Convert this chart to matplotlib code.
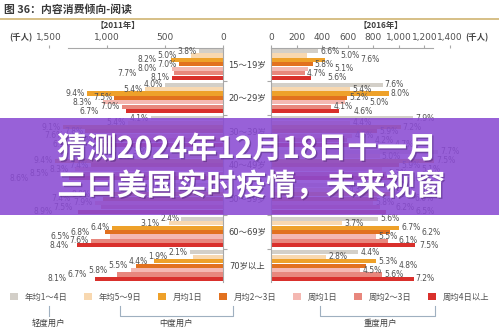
import matplotlib
matplotlib.use("Agg")
import matplotlib.pyplot as plt
from matplotlib.patches import Patch, Rectangle
from matplotlib.lines import Line2D
import matplotlib.transforms as mtransforms
import matplotlib.patheffects as pe

plt.rcParams['font.family'] = ['DejaVu Sans', 'Noto Sans CJK SC']

# ---- data (thousand people, label = share of the age group) ----
ages = ["15～19岁", "20～29岁", "30～39岁", "40～49岁", "50～59岁", "60～69岁", "70岁以上"]
freq_names = ["年均1～4日", "年均5～9日", "月均1日", "月均2～3日",
              "周均1日", "周均2～3日", "周均4日以上"]
colors = ["#d3cfc8", "#f8d8b0", "#eea12a", "#e2711f",
          "#f4b8b2", "#e8877d", "#d9302c"]

vals_2011 = [
    [207, 273, 447, 382, 436, 420, 441],
    [500, 675, 1175, 938, 1038, 875, 838],
    [623, 821, 1383, 1186, 1155, 1110, 1049],
    [601, 739, 1448, 1140, 1278, 1309, 1324],
    [420, 560, 1120, 1036, 1106, 1050, 1246],
    [360, 465, 960, 1020, 975, 1140, 1260],
    [286, 258, 598, 748, 789, 911, 1102],
]
pct_2011 = [
    ["3.8%", "5.0%", "8.2%", "7.0%", "8.0%", "7.7%", "8.1%"],
    ["4.0%", "5.4%", "9.4%", "7.5%", "8.3%", "7.0%", "6.7%"],
    ["4.1%", "5.4%", "9.1%", "7.8%", "7.6%", "7.3%", "6.9%"],
    ["3.9%", "4.8%", "9.4%", "7.4%", "8.3%", "8.5%", "8.6%"],
    ["3.0%", "4.0%", "8.0%", "7.4%", "7.9%", "7.5%", "8.9%"],
    ["2.4%", "3.1%", "6.4%", "6.8%", "6.5%", "7.6%", "8.4%"],
    ["2.1%", "1.9%", "4.4%", "5.5%", "5.8%", "6.7%", "8.1%"],
]
vals_2016 = [
    [370, 280, 426, 325, 286, 263, 314],
    [874, 621, 920, 598, 575, 472, 529],
    [1114, 620, 1015, 832, 635, 592, 663],
    [1309, 850, 1275, 1003, 867, 901, 952],
    [938, 593, 952, 828, 800, 856, 897],
    [840, 555, 1005, 930, 825, 915, 1125],
    [682, 434, 822, 744, 698, 868, 1116],
]
pct_2016 = [
    ["6.6%", "5.0%", "7.6%", "5.8%", "5.1%", "4.7%", "5.6%"],
    ["7.6%", "5.4%", "8.0%", "5.2%", "5.0%", "4.1%", "4.6%"],
    ["7.9%", "4.4%", "7.2%", "5.9%", "4.5%", "4.2%", "4.7%"],
    ["7.7%", "5.0%", "7.5%", "5.9%", "5.1%", "5.3%", "5.6%"],
    ["6.8%", "4.3%", "6.9%", "6.0%", "5.8%", "6.2%", "6.5%"],
    ["5.6%", "3.7%", "6.7%", "6.2%", "5.5%", "6.1%", "7.5%"],
    ["4.4%", "2.8%", "5.3%", "4.8%", "4.5%", "5.6%", "7.2%"],
]
ticks_2011 = [0, 500, 1000, 1500]
ticks_2016 = [0, 200, 400, 600, 800, 1000, 1200, 1400]

W, H = 499, 334
fig = plt.figure(figsize=(W / 100, H / 100), dpi=100)
fig.patch.set_facecolor("white")

G = 7.6
ax1 = fig.add_axes([49 / W, 1 - 282 / H, 174 / W, 234 / H])
ax2 = fig.add_axes([271 / W, 1 - 282 / H, 179 / W, 234 / H])
spine_c = "#a8a8a8"
txt_c = "#505050"

def y_of(i, j):
    return i * G + j

for ax, vals in [(ax1, vals_2011), (ax2, vals_2016)]:
    for i in range(len(ages)):
        for j in range(len(freq_names)):
            ax.barh(y_of(i, j), vals[i][j], height=0.92, color=colors[j], edgecolor="none")
    ax.set_ylim(6 * G + 6.7, -0.7)
    ax.xaxis.tick_top()
    ax.tick_params(axis="x", length=2, pad=2, labelsize=6.5, colors=txt_c, color=spine_c)
    bounds = [i * G - 0.8 for i in range(1, len(ages))]
    ax.set_yticks(bounds)
    ax.set_yticklabels([])
    ax.spines["bottom"].set_visible(False)
    for s in ax.spines.values():
        s.set_color(spine_c)
        s.set_linewidth(0.8)

ax1.set_xlim(1500, 0)
ax1.set_xticks(ticks_2011)
ax1.set_xticklabels([f"{t:,}" for t in ticks_2011])
ax1.spines["left"].set_visible(False)
ax1.spines["top"].set_bounds(0, 1340)
ax1.yaxis.tick_right()
ax1.tick_params(axis="y", length=3, color=spine_c)

ax2.set_xlim(0, 1400)
ax2.set_xticks(ticks_2016)
ax2.set_xticklabels([f"{t:,}" for t in ticks_2016])
ax2.spines["right"].set_visible(False)
ax2.spines["top"].set_bounds(0, 1270)
ax2.tick_params(axis="y", length=3, color=spine_c)

# percentage labels at the bar ends, pushed outward when they collide
renderer = fig.canvas.get_renderer()
for ax, vals, pcts, side in [(ax1, vals_2011, pct_2011, -1), (ax2, vals_2016, pct_2016, 1)]:
    inv = ax.transData.inverted()
    for i in range(len(ages)):
        placed = []
        for j in range(len(freq_names)):
            t = ax.text(0, y_of(i, j), pcts[i][j], fontsize=5.5, color=txt_c,
                        ha="left" if side > 0 else "right", va="center", clip_on=False)
            w = t.get_window_extent(renderer).width
            xe, yp = ax.transData.transform((vals[i][j], y_of(i, j)))
            near = xe + side * 2
            moved = True
            while moved:
                moved = False
                for (a0, a1, py) in placed:
                    lo, hi = (near, near + w) if side > 0 else (near - w, near)
                    if abs(py - yp) < 6 and lo < a1 and hi > a0:
                        near = (a1 + 1) if side > 0 else (a0 - 1)
                        moved = True
            lo, hi = (near, near + w) if side > 0 else (near - w, near)
            placed.append((lo, hi, yp))
            t.set_x(inv.transform((near, yp))[0])

# age labels between the panels
tr = mtransforms.blended_transform_factory(ax1.transAxes, ax1.transData)
for i, a in enumerate(ages):
    ax1.text(1.138, y_of(i, 3), a, transform=tr, ha="center", va="center",
             fontsize=6, color="#404040", clip_on=False)

# title and header
fig.text(4 / W, 1 - 10 / H, "图 36：内容消费倾向-阅读", fontsize=7.8, weight="bold",
         color="#3a3a3a", va="center", family=["Noto Sans CJK SC"])
fig.add_artist(Line2D([0, 1], [1 - 19 / H] * 2, color="#d6bf86", lw=1.4))
fig.text(118 / W, 1 - 25 / H, "【2011年】", fontsize=6, weight="bold", color="#404040",
         ha="center", va="center", family=["Noto Sans CJK SC"])
fig.text(381 / W, 1 - 25 / H, "【2016年】", fontsize=6, weight="bold", color="#404040",
         ha="center", va="center", family=["Noto Sans CJK SC"])
fig.text(21 / W, 1 - 38 / H, "(千人)", fontsize=6, weight="bold", color="#404040",
         ha="center", va="center", family=["Noto Sans CJK SC"])
fig.text(477 / W, 1 - 38 / H, "(千人)", fontsize=6, weight="bold", color="#404040",
         ha="center", va="center", family=["Noto Sans CJK SC"])

# legend
handles = [Patch(facecolor=c, edgecolor="none") for c in colors]
fig.legend(handles, freq_names, ncol=7, loc="center", bbox_to_anchor=(0.5, 1 - 297 / H),
           frameon=False, handlelength=1.0, handleheight=0.8,
           handletextpad=0.8, columnspacing=1.95, labelcolor=txt_c,
           prop={"family": ["Noto Sans CJK SC"], "size": 6})

# user group brackets
br_c = "#9fb0c0"
fig.add_artist(Line2D([49 / W] * 2, [1 - 306 / H, 1 - 316 / H], color=br_c, lw=0.8))
for x0, x1 in [(120, 233), (320, 435)]:
    xs = [x0 / W, x0 / W, x1 / W, x1 / W]
    ys = [1 - 306 / H, 1 - 316 / H, 1 - 316 / H, 1 - 306 / H]
    fig.add_artist(Line2D(xs, ys, color=br_c, lw=0.8))
for xc, lab in [(48, "轻度用户"), (176, "中度用户"), (380, "重度用户")]:
    fig.text(xc / W, 1 - 323 / H, lab, fontsize=6, color="#404040", ha="center", va="center",
             family=["Noto Sans CJK SC"])

# overlay banner
fig.add_artist(Rectangle((0, 1 - 215 / H), 1, 97 / H, transform=fig.transFigure,
                         facecolor="#8a4bd3", alpha=0.88, edgecolor="none", zorder=10))
for yy, line in [(149, "猜测2024年12月18日十一月"), (186, "三曰美国实时疫情，未来视窗")]:
    fig.text(57 / W, 1 - yy / H, line, fontsize=21.5, weight="bold", color="white",
             va="center", ha="left", zorder=11, family=["Noto Sans CJK SC"],
             path_effects=[pe.withSimplePatchShadow(offset=(1, -1), shadow_rgbFace="#3a1a60", alpha=0.4)])

fig.savefig("out.png", dpi=100)
